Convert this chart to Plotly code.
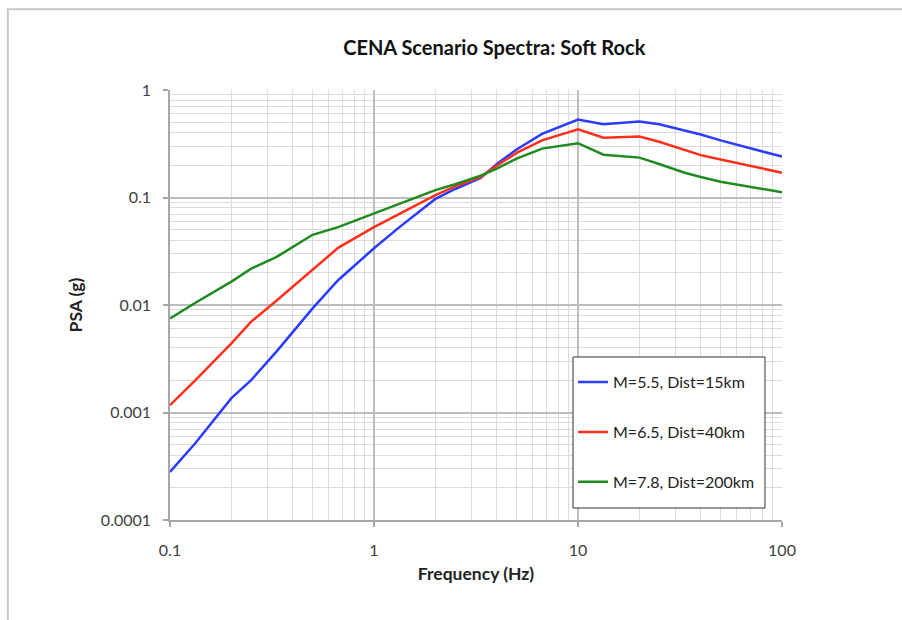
import plotly.graph_objects as go

# Spectral frequencies (Hz)
freq = [0.1, 0.1333, 0.2, 0.25, 0.3333, 0.5, 0.6667, 1, 1.333, 2, 2.5, 3.333,
        4, 5, 6.667, 10, 13.33, 20, 25, 33.33, 40, 50, 100]

# Pseudo-spectral acceleration (g) for each scenario
psa_m55 = [0.00028, 0.00052, 0.00136, 0.0020, 0.0037, 0.0093, 0.0170, 0.0337,
           0.053, 0.097, 0.12, 0.152, 0.205, 0.28, 0.39, 0.53, 0.48, 0.51,
           0.48, 0.42, 0.385, 0.34, 0.24]
psa_m65 = [0.00117, 0.0020, 0.0044, 0.0070, 0.0110, 0.0215, 0.034, 0.053,
           0.070, 0.105, 0.127, 0.155, 0.198, 0.26, 0.34, 0.43, 0.36, 0.37,
           0.33, 0.275, 0.248, 0.226, 0.17]
psa_m78 = [0.0075, 0.0105, 0.0165, 0.0218, 0.028, 0.045, 0.053, 0.071,
           0.087, 0.117, 0.133, 0.16, 0.186, 0.23, 0.285, 0.32, 0.25, 0.235,
           0.205, 0.17, 0.155, 0.14, 0.112]

series_names = ["M=5.5, Dist=15km", "M=6.5, Dist=40km", "M=7.8, Dist=200km"]
series_values = [psa_m55, psa_m65, psa_m78]
series_colors = ["#2a3cff", "#ff3019", "#1f8a1f"]

x_tickvals = [0.1, 1, 10, 100]
x_ticktext = ["0.1", "1", "10", "100"]
y_tickvals = [0.0001, 0.001, 0.01, 0.1, 1]
y_ticktext = ["0.0001", "0.001", "0.01", "0.1", "1"]

FONT = "Lato, 'Open Sans', sans-serif"

fig = go.Figure()
for i, (name, vals, col) in enumerate(zip(series_names, series_values, series_colors)):
    fig.add_trace(go.Scatter(
        x=freq, y=vals, mode="lines", name=name,
        legendgroup=f"g{i}",
        line=dict(color=col, width=2.5),
    ))

axis_common = dict(
    type="log",
    showline=True, linecolor="#a6a6a6", linewidth=1.5,
    ticks="outside", ticklen=5, tickcolor="#a6a6a6", tickwidth=1.5,
    showgrid=True, gridcolor="#bdbdbd", gridwidth=1.5,
    zeroline=False,
    tickfont=dict(family=FONT, size=16, color="#404040"),
    minor=dict(dtick="D1", showgrid=True, gridcolor="#dcdcdc", gridwidth=1, ticks=""),
)

fig.update_xaxes(
    **axis_common,
    range=[-1, 2],
    tickvals=x_tickvals, ticktext=x_ticktext,
    ticklabelstandoff=10,
    title=dict(text="<b>Frequency (Hz)</b>", font=dict(family=FONT, size=17.5, color="#222"), standoff=10),
)
fig.update_yaxes(
    **axis_common,
    range=[-4, 0],
    tickvals=y_tickvals, ticktext=y_ticktext,
    ticklabelstandoff=9,
    title=dict(text="<b>PSA (g)</b>", font=dict(family=FONT, size=17.5, color="#222"), standoff=14),
)

# Legend frame (plot-area fractions), drawn as a white box over the grid
legend_box = dict(x0=0.6585, x1=0.9722, y0=0.0279, y1=0.3791)

fig.update_layout(
    width=902, height=620,
    margin=dict(l=170, r=120, t=90, b=100),
    paper_bgcolor="white", plot_bgcolor="white",
    title=dict(text="<b>CENA Scenario Spectra: Soft Rock</b>",
               font=dict(family=FONT, size=20, color="#111"),
               x=0.548, xanchor="center", y=0.922, yanchor="middle"),
    legend=dict(
        x=0.6585, y=0.36, xanchor="left", yanchor="top",
        bgcolor="rgba(0,0,0,0)", borderwidth=0,
        font=dict(family=FONT, size=16, color="#222"),
        traceorder="grouped", tracegroupgap=26,
        itemwidth=30,
    ),
    showlegend=True,
    shapes=[
        dict(type="rect", xref="paper", yref="paper",
             x0=-0.265, x1=1.4, y0=-0.5, y1=1.188,
             line=dict(color="#c8c8c8", width=2), layer="below"),
        dict(type="rect", xref="paper", yref="paper", **legend_box,
             fillcolor="white", line=dict(color="#333", width=1), layer="above"),
    ],
)

fig.write_html("out.html")
